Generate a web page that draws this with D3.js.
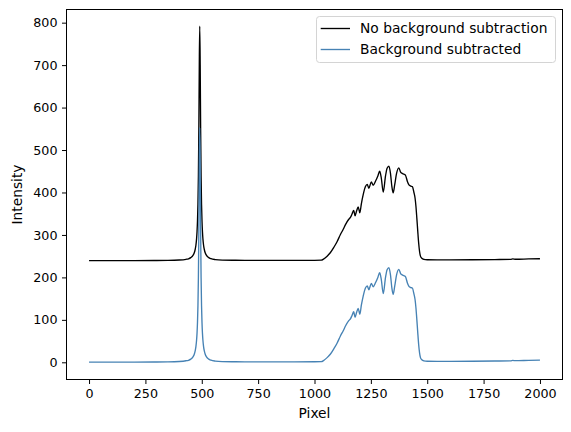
<!DOCTYPE html>
<html>
<head>
<meta charset="utf-8">
<script src="https://cdn.jsdelivr.net/npm/d3@7"></script>
<style>
  html, body { margin: 0; padding: 0; background: #fff; }
  svg { display: block; font-family: "DejaVu Sans", sans-serif; }
</style>
</head>
<body>
<svg id="chart" width="571" height="432"></svg>
<script>
const pixels = [0,100,200,300,350,400,430,441,451,461,466,471,474,477,479,481,483,485,487,489,491,493,495,497,499,501,503,505,508,511,516,521,531,541,560,591,650,691,800,900,1000,1030,1040,1056,1070,1086,1100,1115,1128,1138,1152,1160,1167,1174,1180,1187,1194,1201,1208,1216,1226,1234,1241,1252,1260,1271,1281,1289,1296,1305,1315,1322,1330,1337,1343,1349,1356,1364,1374,1382,1389,1397,1404,1412,1419,1427,1434,1441,1446,1450,1454,1458,1462,1466,1470,1476,1485,1500,1600,1700,1800,1870,1880,1890,1950,2000];

const noBackground = [239.5,239.5,239.6,239.8,240,240.9,242.6,243.8,246.5,251.8,256.9,266.3,275.8,291.4,307.8,332.7,371.9,437.9,548.1,701,792,701,548.1,437.9,371.9,332.7,307.8,291.4,275.8,266.3,256.9,251.8,246.5,244,241.9,240.7,240.3,240.1,240,240,240.2,240.5,243,250,258,271,284,301,314,325,337,342,350,358,345,357,366,352,374,395,414,419,410,425,417,427,439,450,435,401,439,457,462,445,415,399,419,445,458,448,445,443,440,426,418,415,414,400,387,367,339,309,281,261,250,245,242.5,241.5,241.3,241.5,242,242.5,243.5,242.8,243.5,244];

const subtracted = [0.5,0.5,0.6,0.8,1.0,1.9,3.6,4.8,7.5,12.8,17.9,27.3,36.8,52.4,68.8,93.7,132.9,198.9,309.1,462,553,462,309.1,198.9,132.9,93.7,68.8,52.4,36.8,27.3,17.9,12.8,7.5,5.0,2.9,1.7,1.3,1.1,1.0,1.0,1.2,1.5,4,11,19,32,45,62,75,86,98,103,111,119,106,118,127,113,135,156,175,180,171,186,178,188,200,211,196,162,200,218,223,206,176,160,180,206,219,209,206,204,201,187,179,176,175,161,148,128,100,70,42,22,11,6,3.5,2.5,2.3,2.5,3,3.5,4.5,3.8,4.5,5];

const xTicks = [0,250,500,750,1000,1250,1500,1750,2000];
const yTicks = [0,100,200,300,400,500,600,700,800];
const seriesNames = ["No background subtraction", "Background subtracted"];
const seriesColors = ["#000000", "#4682b4"];

const svg = d3.select("#chart");
const L = 66.5, R = 562.5, T = 9.5, B = 379.5;

const x = d3.scaleLinear().domain([-100, 2100]).range([L, R]);
const y = d3.scaleLinear().domain([-40.5, 831]).range([B, T]);

const line = d3.line().curve(d3.curveMonotoneX).x((d, i) => x(pixels[i])).y(d => y(d));

const plot = svg.append("g");
plot.append("path").datum(noBackground)
  .attr("d", line).attr("fill", "none")
  .attr("stroke", seriesColors[0]).attr("stroke-width", 1.35)
  .attr("stroke-linejoin", "round");
plot.append("path").datum(subtracted)
  .attr("d", line).attr("fill", "none")
  .attr("stroke", seriesColors[1]).attr("stroke-width", 1.35)
  .attr("stroke-linejoin", "round");

// axes
const xAxis = d3.axisBottom(x).tickValues(xTicks).tickSize(4.5).tickPadding(4.5).tickFormat(d3.format("d"));
const yAxis = d3.axisLeft(y).tickValues(yTicks).tickSize(4.5).tickPadding(4.5).tickFormat(d3.format("d"));

const gx = svg.append("g").attr("transform", `translate(0,${B})`).call(xAxis);
const gy = svg.append("g").attr("transform", `translate(${L},0)`).call(yAxis);
[gx, gy].forEach(g => {
  g.select(".domain").remove();
  g.selectAll(".tick line").attr("stroke", "#000").attr("stroke-width", 1);
  g.selectAll(".tick text").attr("fill", "#000").style("font-size", "12.7px")
    .style("font-family", '"DejaVu Sans", sans-serif');
});

// frame
svg.append("rect").attr("x", L).attr("y", T).attr("width", R - L).attr("height", B - T)
  .attr("fill", "none").attr("stroke", "#000").attr("stroke-width", 1);

// axis labels
svg.append("text").attr("x", (L + R) / 2).attr("y", 418)
  .attr("text-anchor", "middle").style("font-size", "13.8px").text("Pixel");
svg.append("text").attr("transform", `translate(22,${(T + B) / 2}) rotate(-90)`)
  .attr("text-anchor", "middle").style("font-size", "13.8px").text("Intensity");

// legend
const lg = svg.append("g");
lg.append("rect").attr("x", 316.5).attr("y", 16.5).attr("width", 239).attr("height", 46)
  .attr("rx", 3).attr("fill", "#fff").attr("fill-opacity", 0.8)
  .attr("stroke", "#d4d4d4").attr("stroke-width", 1);
const rows = [28.5, 49.5];
seriesNames.forEach((name, i) => {
  lg.append("line").attr("x1", 320.7).attr("x2", 350).attr("y1", rows[i]).attr("y2", rows[i])
    .attr("stroke", seriesColors[i]).attr("stroke-width", 1.35);
  lg.append("text").attr("x", 360).attr("y", rows[i]).attr("dy", "0.35em")
    .style("font-size", "13.8px").text(name);
});
</script>
</body>
</html>
